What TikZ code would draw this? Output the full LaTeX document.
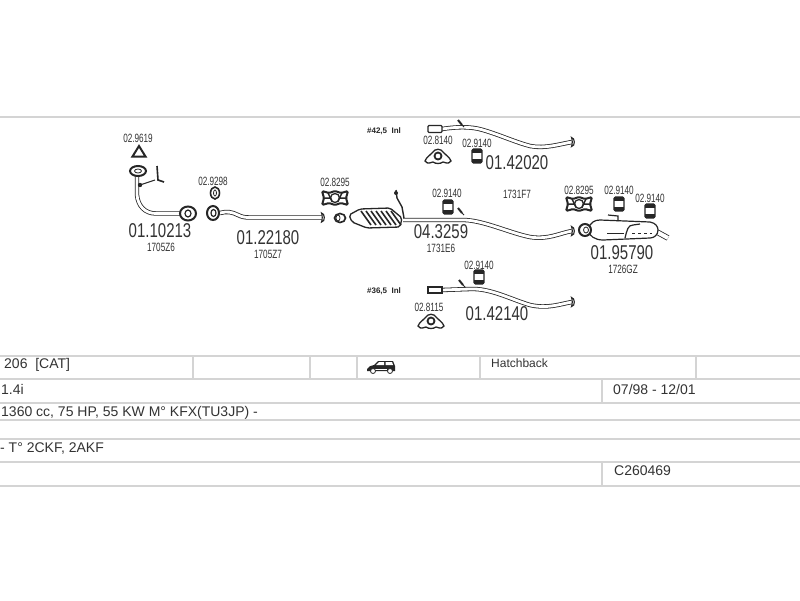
\documentclass[tikz,border=0pt]{standalone}
\usepackage{fontspec}
\setmainfont{Liberation Sans}
\tikzset{
    x = 1pt, y = -1pt,
    rowline/.style = {draw = black!17, line width = 1.8pt},
    pipe/.style = {draw = black!85, double = white, double distance = 2.8pt, line width = 0.8pt, line cap = butt},
    part/.style = {draw = black!85, line width = 0.8pt, fill = white},
    partno/.style = {font = \fontsize{20}{20}\selectfont, xscale = 0.75, text = black!80, inner sep = 0pt},
    refno/.style = {font = \fontsize{12}{12}\selectfont, xscale = 0.68, text = black!80, inner sep = 0pt},
    inlet/.style = {font = \fontsize{8}{8}\selectfont\bfseries, text = black!85, inner sep = 0pt},
    cell/.style = {font = \fontsize{14}{14}\selectfont, text = black!80, anchor = west, inner sep = 0pt},
    pics/hanger/.style = {code = {
        \draw[part, rounded corners = 1.5pt, line width = 1.1pt] (-5,-7) rectangle (5,7);
        \fill[black!85] (-5,-7) rectangle (5,-3);
        \fill[black!85] (-5,7) rectangle (5,3);
        \fill[white] (-2.5,-1.5) rectangle (2.5,1.5);
    }},
    pics/clamp/.style = {code = {
        \draw[part, line width = 1.3pt] (-13,4) .. controls (-11,-1) and (-8,-1) .. (-6,-4) .. controls (-3,-9) and (3,-9) .. (6,-4) .. controls (8,-1) and (11,-1) .. (13,4) .. controls (10,8) and (7,5) .. (5,5) .. controls (2,7) and (-2,7) .. (-5,5) .. controls (-7,5) and (-10,8) .. (-13,4) -- cycle;
        \draw[black!85, line width = 1.8pt] (0,-1) circle[radius = 3.5];
    }},
    pics/flexgasket/.style = {code = {
        \draw[black!85, line width = 2pt, rounded corners = 1.5pt] (-13,-7) -- (-6,-5) -- (0,-7) -- (6,-5) -- (13,-7) -- (11,0) -- (13,7) -- (6,5) -- (0,7) -- (-6,5) -- (-13,7) -- (-11,0) -- cycle;
        \draw[black!85, line width = 1.3pt] (0,0) circle[radius = 4.5];
        \draw[black!85, line width = 1.5pt] (-12,0) -- (-5,0) (5,0) -- (12,0) (-7,-5) -- (-3,3) (7,-5) -- (3,3);
    }},
    pics/stud/.style = {code = {
        \draw[black!85, line width = 2pt] (0,0) -- (4,5);
        \draw[black!85, line width = 1pt] (4,5) -- (6,7);
    }},
    pics/capend/.style = {code = {
        \draw[part, line width = 1.1pt] (-1.5,-4.5) .. controls (2,-4.5) and (2.5,4.5) .. (-1.5,4.5) .. controls (-0.5,2) and (-0.5,-2) .. (-1.5,-4.5) -- cycle;
    }}
}
\begin{document}
\begin{tikzpicture}
    \path[fill = white] (0,0) rectangle (800,600);
    \useasboundingbox (0,0) rectangle (800,600);
    \begin{scope}[every path/.append style = {rowline}]
        \draw (0,117) -- (800,117);
        \foreach \y in {356, 379, 403, 420, 439, 462, 486} {
            \draw (0,\y) -- (800,\y);
        }
        \foreach \x in {193, 310, 357, 480, 696} {
            \draw (\x,356) -- (\x,379);
        }
        \draw (602,379) -- (602,403);
        \draw (602,462) -- (602,486);
    \end{scope}
    \node[cell] (model) at (4,365) {206\ \ [CAT]};
    \node[cell] (engine) at (1,389) {1.4i};
    \node[cell] (power) at (1,412.5) {1360 cc, 75 HP, 55 KW M° KFX(TU3JP) -};
    \node[cell] (types) at (0,448) {- T° 2CKF, 2AKF};
    \node[cell, font = \fontsize{12}{13}\selectfont] (body) at (491,363.5) {Hatchback};
    \node[cell] (years) at (613,389) {07/98 - 12/01};
    \node[cell] (catalog) at (614,471) {C260469};
    \begin{scope}[shift = {(381,367)}]
        \fill[black!85] (-14,2) .. controls (-13,-1) and (-10,-1) .. (-7,-2) -- (-3,-6) -- (12,-6) -- (14,-1) -- (14,4) -- (-14,4) -- cycle;
        \fill[white] (-5,-2) -- (-2,-5) -- (3,-5) -- (3,-2) -- cycle;
        \fill[white] (4.5,-5) -- (11,-5) -- (12,-2) -- (4.5,-2) -- cycle;
        \fill[white] (-6,1.5) rectangle (6,3);
        \draw[part] (-8,4) circle[radius = 2.5];
        \draw[part] (9,4) circle[radius = 2.5];
    \end{scope}
    \draw[pipe] (137,175) -- (137,195) .. controls (138,206) and (145,213.5) .. (156,213.5) -- (182,213.5);
    \draw[part, line width = 2pt] (138,171) ellipse[x radius = 8, y radius = 5];
    \draw[part] (138,171) ellipse[x radius = 3.5, y radius = 2];
    \draw[part, line width = 2pt] (188,213.5) ellipse[x radius = 8, y radius = 7];
    \draw[part, line width = 1.2pt] (188,213.5) ellipse[x radius = 3, y radius = 3.5];
    \draw[black!85, line width = 1pt] (140,185) -- (155,180);
    \fill[black!85] (140,185) circle[radius = 2.2];
    \draw[black!85, line width = 1.6pt] (157,166) -- (158,180) -- (164,182);
    \draw[part, line width = 2pt] (139,146) -- (145.5,156.5) -- (132.5,156.5) -- cycle;
    \node[refno] (ref9619) at (138,138) {02.9619};
    \node[partno] (part10213) at (160,230.5) {01.10213};
    \node[refno] (oem26) at (161,247.5) {1705Z6};
    \draw[part, line width = 1.6pt] (215,193) ellipse[x radius = 4.5, y radius = 6];
    \draw[part] (215,193) ellipse[x radius = 1.5, y radius = 3];
    \node[refno] (ref9298) at (213,181) {02.9298};
    \draw[pipe] (220,213) .. controls (227,211) and (232,212) .. (238,215) .. controls (242,217) and (245,217.5) .. (250,217.5) -- (322,217.5);
    \draw[part, line width = 2pt] (213,213) ellipse[x radius = 6, y radius = 7];
    \draw[part, line width = 1.2pt] (213.5,213) ellipse[x radius = 2.5, y radius = 3.5];
    \pic at (323,217.5) {capend};
    \node[partno] (part22180) at (268,238) {01.22180};
    \node[refno] (oem27) at (268,254) {1705Z7};
    \pic at (335,198) {flexgasket};
    \node[refno] (ref8295a) at (335,182) {02.8295};
    \draw[part, line width = 1.6pt] (340,218) ellipse[x radius = 5.5, y radius = 4.5];
    \draw[part] (338,218) ellipse[x radius = 2, y radius = 3];
    \draw[pipe] (403,220) -- (465,220) .. controls (485,221) and (510,233) .. (530,237) .. controls (548,240) and (560,233) .. (572,231);
    \pic at (573,231) {capend};
    \draw[part, line width = 1.3pt, rounded corners = 2pt] (349,215) -- (360,209) -- (390,208) -- (402,218) -- (400,227) -- (367,228) -- (352,222) -- cycle;
    \foreach \x in {0, 5, ..., 30} {
        \draw[black!85, line width = 1.6pt] (361+\x,211) -- (371+\x,225);
    }
    \draw[black!85, line width = 1.4pt] (396,190) -- (397,198) -- (402,207) -- (404,218);
    \fill[black!85] (396,193) circle[radius = 2];
    \pic at (458,208) {stud};
    \pic at (448,207) {hanger};
    \node[refno] (ref9140a) at (447,193) {02.9140};
    \node[partno] (part3259) at (441,231.5) {04.3259};
    \node[refno] (oemE6) at (441,248.5) {1731E6};
    \node[refno] (oemF7) at (517,194) {1731F7};
    \node[inlet] (inlet425) at (384,131) {\#42,5\ \ Inl};
    \draw[pipe] (442,129) .. controls (455,127) and (470,126) .. (483,130) .. controls (500,135) and (515,142) .. (530,146) .. controls (545,149) and (560,144) .. (572,142);
    \pic at (573,142) {capend};
    \draw[part, line width = 1.1pt, rounded corners = 1pt] (428,125.5) rectangle (442,132.5);
    \pic at (458,120) {stud};
    \pic at (438,157) {clamp};
    \node[refno] (ref8140) at (438,140) {02.8140};
    \pic at (477,156) {hanger};
    \node[refno] (ref9140b) at (477,143) {02.9140};
    \node[partno] (part42020) at (517,163) {01.42020};
    \node[inlet] (inlet365) at (384,291) {\#36,5\ \ Inl};
    \draw[pipe] (442,290) -- (470,289) .. controls (490,288) and (510,299) .. (530,305) .. controls (548,309) and (560,304) .. (572,302);
    \pic at (573,302) {capend};
    \draw[part, line width = 1.1pt] (428,287) rectangle (442,293);
    \pic at (459,280) {stud};
    \pic at (479,277) {hanger};
    \node[refno] (ref9140c) at (479,265) {02.9140};
    \pic at (431,322) {clamp};
    \node[refno] (ref8115) at (429,307) {02.8115};
    \node[partno] (part42140) at (497,314) {01.42140};
    \pic at (579,204) {flexgasket};
    \node[refno] (ref8295b) at (579,190) {02.8295};
    \pic at (619,204) {hanger};
    \node[refno] (ref9140d) at (619,190) {02.9140};
    \pic at (650,211) {hanger};
    \node[refno] (ref9140e) at (650,198) {02.9140};
    \draw[pipe, double distance = 4pt] (657,232) -- (668,238);
    \draw[part, line width = 1.2pt] (588,230) .. controls (590,222) and (595,220) .. (600,220) -- (650,222) .. controls (656,223) and (658,227) .. (658,230) .. controls (658,235) and (654,238) .. (650,238) -- (603,240) .. controls (595,240) and (589,236) .. (588,230) -- cycle;
    \draw[part, line width = 2pt] (585,230) ellipse[x radius = 6, y radius = 6];
    \draw[part] (586,230) ellipse[x radius = 2.5, y radius = 3];
    \draw[black!85, line width = 1.2pt] (608,215) -- (618,216) -- (618,221);
    \draw[black!85, line width = 0.9pt] (607,233) -- (624,233);
    \draw[black!85, line width = 0.9pt, dashed] (632,233) -- (652,233);
    \draw[black!85, line width = 1.2pt] (625,238) .. controls (627,230) and (628,225) .. (633,225) -- (640,224);
    \node[partno] (part95790) at (622,252.5) {01.95790};
    \node[refno] (oemGZ) at (623,269) {1726GZ};
\end{tikzpicture}
\end{document}
